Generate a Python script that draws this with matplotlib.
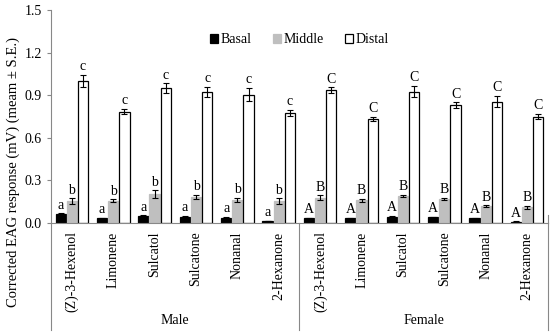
import numpy as np
import matplotlib
matplotlib.use('Agg')
import matplotlib.pyplot as plt
from matplotlib.transforms import blended_transform_factory

plt.rcParams['font.family'] = ['Liberation Serif', 'DejaVu Serif']

compounds = ['(Z)-3-Hexenol', 'Limonene', 'Sulcatol', 'Sulcatone', 'Nonanal', '2-Hexanone']
sexes = ['Male', 'Female']

basal = [0.065, 0.035, 0.050, 0.045, 0.038, 0.015,
         0.035, 0.035, 0.045, 0.040, 0.035, 0.010]
basal_se = [0.004, 0.004, 0.004, 0.004, 0.004, 0.003,
            0.004, 0.004, 0.004, 0.004, 0.004, 0.002]
middle = [0.155, 0.158, 0.205, 0.185, 0.163, 0.155,
          0.180, 0.160, 0.190, 0.170, 0.120, 0.110]
middle_se = [0.020, 0.010, 0.025, 0.015, 0.015, 0.020,
             0.015, 0.012, 0.008, 0.006, 0.005, 0.010]
distal = [1.000, 0.785, 0.950, 0.925, 0.905, 0.775,
          0.935, 0.735, 0.925, 0.830, 0.855, 0.750]
distal_se = [0.045, 0.020, 0.035, 0.035, 0.045, 0.020,
             0.020, 0.015, 0.040, 0.020, 0.040, 0.020]

letters_male = ['a', 'b', 'c']
letters_female = ['A', 'B', 'C']

fig = plt.figure(figsize=(5.5, 3.36), dpi=100)
ax = fig.add_axes([0.093, 0.336, 0.903, 0.634])

n = len(basal)
x = np.arange(n)
w = 0.27
series = [(basal, basal_se, 'black', 'black', 'Basal'),
          (middle, middle_se, '#bfbfbf', '#bfbfbf', 'Middle'),
          (distal, distal_se, 'white', 'black', 'Distal')]

for k, (vals, se, col, edge, lab) in enumerate(series):
    pos = x + (k - 1) * w
    ax.bar(pos, vals, width=w * 0.92, color=col, edgecolor=edge, linewidth=0.9,
           label=lab, yerr=se, capsize=2.5,
           error_kw=dict(elinewidth=0.8, capthick=0.8, ecolor='black'))
    for i in range(n):
        letter = letters_male[k] if i < 6 else letters_female[k]
        ax.text(pos[i], vals[i] + se[i] + 0.012, letter, ha='center', va='bottom',
                fontsize=10)

ax.set_xlim(-0.5, n - 0.5)
ax.set_ylim(0, 1.5)
ax.set_yticks(np.arange(0, 1.51, 0.3))
ax.set_yticklabels(['%.1f' % v for v in np.arange(0, 1.51, 0.3)], fontsize=10)
ax.set_ylabel('Corrected EAG response (mV) (meam ± S.E.)', fontsize=10.5)
ax.yaxis.set_label_coords(-0.062, 0.24)
ax.set_xticks(x)
ax.set_xticklabels(compounds * 2, rotation=90, fontsize=10)
ax.tick_params(axis='x', length=0, pad=6)
ax.tick_params(axis='y', length=3, direction='out', color='#888888')
ax.spines['top'].set_visible(False)
ax.spines['right'].set_visible(False)
for s in ['left', 'bottom']:
    ax.spines[s].set_color('#888888')
    ax.spines[s].set_linewidth(0.8)

trans = blended_transform_factory(ax.transData, ax.transAxes)
for xv in [-0.5, 5.5, 11.5]:
    ax.plot([xv, xv], [0, -0.5], transform=trans, color='#888888', lw=0.8,
            clip_on=False)
ax.plot([11.5, 11.5], [0, 0.04], transform=trans, color='#888888', lw=0.8,
        clip_on=False)
for j, s in enumerate(sexes):
    ax.text(2.5 + 6 * j, -0.455, s, transform=trans, ha='center', va='center',
            fontsize=10)

ax.legend(loc='center', bbox_to_anchor=(0.5, 0.86), ncol=3, frameon=False,
          fontsize=10, handlelength=0.6, handleheight=0.6, handletextpad=0.2,
          columnspacing=1.5)

fig.savefig('out.png', dpi=100)
